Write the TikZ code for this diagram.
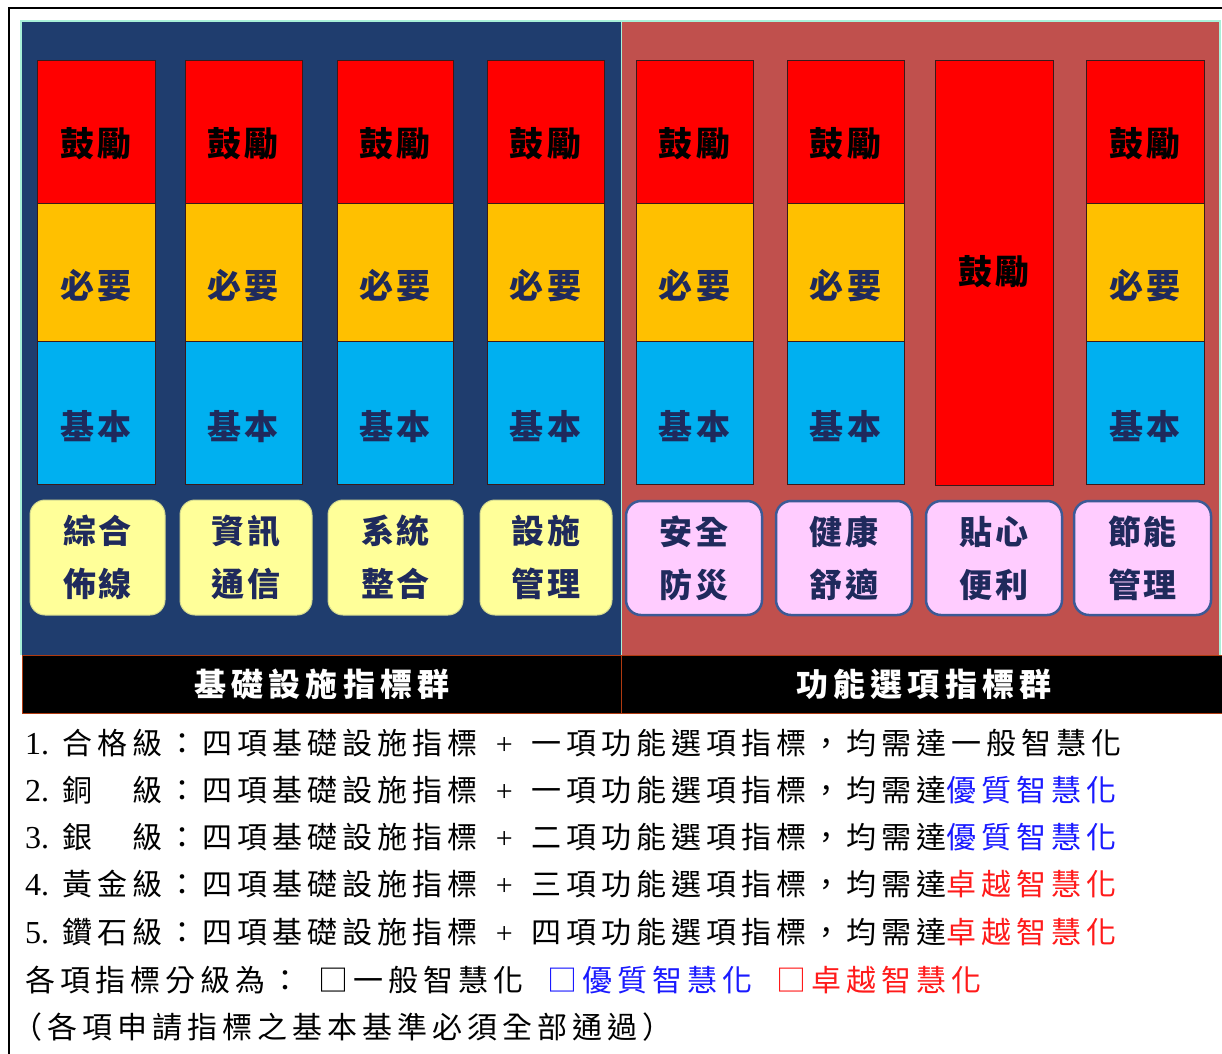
\documentclass[tikz,border=0pt]{standalone}
\usepackage{fontspec}
\setmainfont{Liberation Serif}
\newfontfamily\cjkline[LetterSpace=16.7]{Noto Sans CJK TC}
\newfontfamily\cjkbox[LetterSpace=9]{Noto Sans CJK TC}
\newfontfamily\cjkbar[LetterSpace=16]{Noto Sans CJK TC}
\definecolor{panelblue}{HTML}{1F3D6E}
\definecolor{panelred}{HTML}{C0504D}
\definecolor{topred}{HTML}{FF0000}
\definecolor{midorange}{HTML}{FFC000}
\definecolor{lowcyan}{HTML}{00B0F0}
\definecolor{tagyellow}{HTML}{FFFF99}
\definecolor{tagpink}{HTML}{FFCCFF}
\definecolor{tagedge}{HTML}{3C5A96}
\definecolor{navytext}{HTML}{1F2A5C}
\definecolor{edgecyan}{HTML}{A8F0D8}
\definecolor{tierline}{HTML}{3A1A1A}
\definecolor{qblue}{HTML}{1A1AFF}
\definecolor{qred}{HTML}{FF1A1A}
\definecolor{barline}{HTML}{B03A10}
\newcommand\numlbl[1]{\makebox[37pt][l]{\fontsize{32}{36}\selectfont\rmfamily #1}}
\newcommand\plussign{\makebox[54pt]{\fontsize{30}{36}\selectfont\rmfamily +}}
\begin{document}
\begin{tikzpicture}[x=1pt,y=-1pt,
  tier/.style={draw=tierline, line width=1pt, inner sep=0pt, outer sep=0pt},
  toptier/.style={tier, fill=topred},
  midtier/.style={tier, fill=midorange},
  lowtier/.style={tier, fill=lowcyan},
  tierlabel/.style={inner sep=0pt, font=\fontsize{34}{40}\selectfont\cjkbox\bfseries},
  tag/.style={rounded corners=15pt, inner sep=0pt, outer sep=0pt, align=center,
     text=navytext, font=\fontsize{33}{53}\selectfont\cjkbox\bfseries},
  ytag/.style={tag, fill=tagyellow, draw=tagyellow!80!panelblue, line width=1pt},
  ptag/.style={tag, fill=tagpink, draw=tagedge, line width=2.5pt},
  barlabel/.style={inner sep=0pt, text=white, font=\fontsize{32}{40}\selectfont\cjkbar\bfseries},
  textline/.style={anchor=west, inner sep=0pt, font=\fontsize{30}{36}\selectfont\cjkline}
]
\useasboundingbox (0,0) rectangle (1222,1053);
\fill[white] (0,0) rectangle (1222,1053);
% outer frame
\draw[line width=2pt] (9,1060) -- (9,8) -- (1230,8);
% panels
\node[fill=panelblue, inner sep=0pt, outer sep=0pt, minimum width=599pt, minimum height=633pt] (bluepanel) at (321.5,338.5) {};
\node[fill=panelred, inner sep=0pt, outer sep=0pt, minimum width=598pt, minimum height=633pt] (redpanel) at (920,338.5) {};
\draw[edgecyan, line width=2pt] (21,655) -- (21,21) -- (1220,21) -- (1220,655);
\draw[edgecyan, line width=1.5pt] (621.5,22) -- (621.5,655);
% tiers
\foreach \i/\xa/\xb in {1/37/155, 2/185/302, 3/337/453, 4/487/604, 5/636/753, 6/787/904, 8/1086/1204} {
  \node[toptier, minimum width={\xb pt-\xa pt}, minimum height=143pt] (top\i) at ({(\xa+\xb)/2},131.5) {};
  \node[midtier, minimum width={\xb pt-\xa pt}, minimum height=138pt] (mid\i) at ({(\xa+\xb)/2},272) {};
  \node[lowtier, minimum width={\xb pt-\xa pt}, minimum height=143pt] (low\i) at ({(\xa+\xb)/2},412.5) {};
  \node[tierlabel, text=black] (toplbl\i) at ([yshift=-12pt]top\i.center) {鼓勵};
  \node[tierlabel, text=navytext] (midlbl\i) at ([yshift=-14pt]mid\i.center) {必要};
  \node[tierlabel, text=navytext] (lowlbl\i) at ([yshift=-14pt]low\i.center) {基本};
}
\node[toptier, minimum width=118pt, minimum height=425pt] (top7) at (994,272.5) {};
\node[tierlabel, text=black] (toplbl7) at (994,272) {鼓勵};
% tags
\node[ytag, minimum width=135pt, minimum height=115pt] (tag1) at (97.5,557.5) {綜合\\佈線};
\node[ytag, minimum width=132pt, minimum height=115pt] (tag2) at (246,557.5) {資訊\\通信};
\node[ytag, minimum width=135pt, minimum height=115pt] (tag3) at (395.5,557.5) {系統\\整合};
\node[ytag, minimum width=132pt, minimum height=115pt] (tag4) at (546,557.5) {設施\\管理};
\node[ptag, minimum width=136pt, minimum height=114pt] (tag5) at (694,558) {安全\\防災};
\node[ptag, minimum width=136pt, minimum height=114pt] (tag6) at (844,558) {健康\\舒適};
\node[ptag, minimum width=136pt, minimum height=114pt] (tag7) at (994,558) {貼心\\便利};
\node[ptag, minimum width=137pt, minimum height=114pt] (tag8) at (1142.5,558) {節能\\管理};
% black bar
\node[fill=black, draw=barline, line width=1pt, inner sep=0pt, outer sep=0pt, minimum width=1201pt, minimum height=58pt] (bar) at (622.5,684) {};
\draw[barline, line width=1pt] (621.5,655) -- (621.5,713);
\node[barlabel] (barleft) at (322,684) {基礎設施指標群};
\node[barlabel] (barright) at (924,684) {功能選項指標群};
% text lines
\node[textline] (line1) at (25,743) {\numlbl{1.}合格級：四項基礎設施指標\plussign 一項功能選項指標，均需達一般智慧化};
\node[textline] (line2) at (25,790) {\numlbl{2.}銅　級：四項基礎設施指標\plussign 一項功能選項指標，均需達{\color{qblue}優質智慧化}};
\node[textline] (line3) at (25,837) {\numlbl{3.}銀　級：四項基礎設施指標\plussign 二項功能選項指標，均需達{\color{qblue}優質智慧化}};
\node[textline] (line4) at (25,884) {\numlbl{4.}黃金級：四項基礎設施指標\plussign 三項功能選項指標，均需達{\color{qred}卓越智慧化}};
\node[textline] (line5) at (25,932) {\numlbl{5.}鑽石級：四項基礎設施指標\plussign 四項功能選項指標，均需達{\color{qred}卓越智慧化}};
\node[textline] (line6) at (25,980) {各項指標分級為：\hspace{18pt}□一般智慧化\hspace{24pt}{\color{qblue}□優質智慧化}\hspace{24pt}{\color{qred}□卓越智慧化}};
\node[textline] (line7) at (12,1027) {（各項申請指標之基本基準必須全部通過）};
\end{tikzpicture}
\end{document}
